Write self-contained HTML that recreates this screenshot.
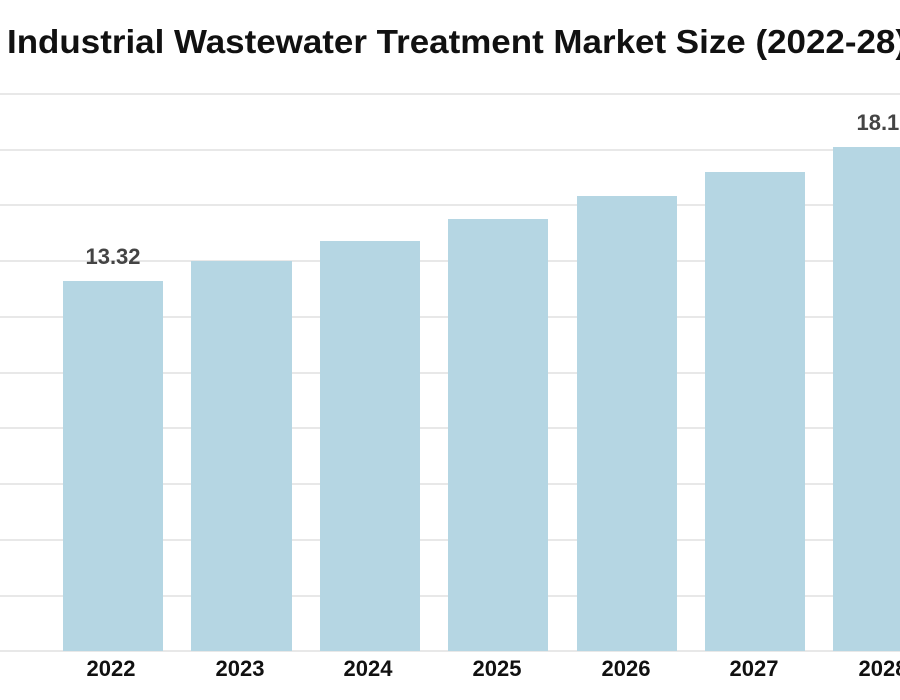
<!DOCTYPE html>
<html><head><meta charset="utf-8"><style>
html,body{margin:0;padding:0;background:#fff;width:900px;height:700px;overflow:hidden}
svg{display:block}
</style></head><body>
<svg width="900" height="700" xmlns="http://www.w3.org/2000/svg" font-family="Liberation Sans, sans-serif">
<text x="7" y="53" font-size="33" font-weight="bold" fill="#111" textLength="900" lengthAdjust="spacingAndGlyphs">Industrial Wastewater Treatment Market Size (2022-28)</text>
<g stroke="#e0e0e0" stroke-width="1.5">
<line x1="0" x2="900" y1="94" y2="94"/>
<line x1="0" x2="900" y1="150" y2="150"/>
<line x1="0" x2="900" y1="205" y2="205"/>
<line x1="0" x2="900" y1="261" y2="261"/>
<line x1="0" x2="900" y1="317" y2="317"/>
<line x1="0" x2="900" y1="373" y2="373"/>
<line x1="0" x2="900" y1="428" y2="428"/>
<line x1="0" x2="900" y1="484" y2="484"/>
<line x1="0" x2="900" y1="540" y2="540"/>
<line x1="0" x2="900" y1="596" y2="596"/>
<line x1="0" x2="900" y1="651" y2="651"/>
</g>
<g fill="#b5d6e3">
<rect x="63" y="281" width="100" height="370"/>
<rect x="191" y="261" width="101" height="390"/>
<rect x="320" y="241" width="100" height="410"/>
<rect x="448" y="219" width="100" height="432"/>
<rect x="577" y="196" width="100" height="455"/>
<rect x="705" y="172" width="100" height="479"/>
<rect x="833" y="147" width="102" height="504"/>
</g>
<g font-size="22" font-weight="bold" fill="#444" text-anchor="middle">
<text x="113" y="264">13.32</text>
<text x="884" y="130">18.12</text>
</g>
<g font-size="22" font-weight="bold" fill="#111" text-anchor="middle">
<text x="111" y="676">2022</text>
<text x="240" y="676">2023</text>
<text x="368" y="676">2024</text>
<text x="497" y="676">2025</text>
<text x="626" y="676">2026</text>
<text x="754" y="676">2027</text>
<text x="883" y="676">2028</text>
</g>
</svg>
</body></html>
